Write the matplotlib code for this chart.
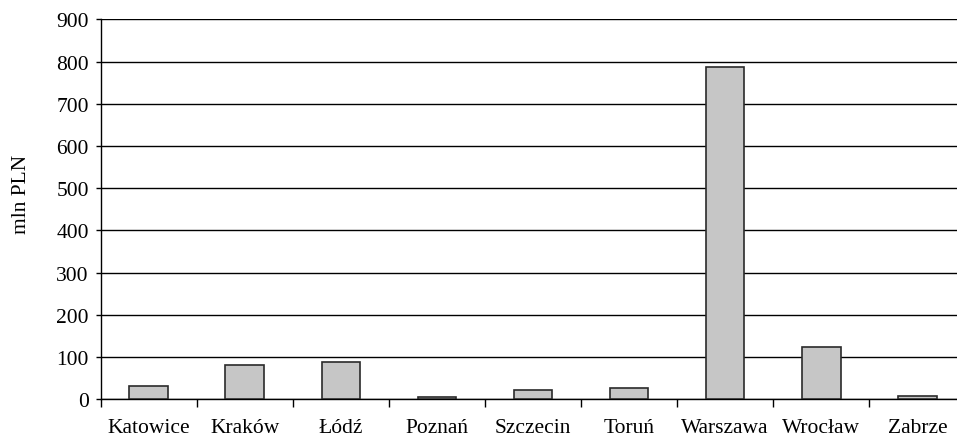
import matplotlib
matplotlib.use("Agg")
import matplotlib.pyplot as plt
import numpy as np

cities = ["Katowice", "Kraków", "Łódź", "Poznań", "Szczecin", "Toruń", "Warszawa", "Wrocław", "Zabrze"]
values = [31, 81, 88, 6, 23, 26, 787, 125, 9]
y_ticks = [0, 100, 200, 300, 400, 500, 600, 700, 800, 900]
y_label = "mln PLN"

plt.rcParams['font.family'] = ['Liberation Serif', 'DejaVu Serif']

W, H = 957, 439
fig = plt.figure(figsize=(W / 100, H / 100), dpi=100)
left, right, top, bottom = 100.5, 965.5, 20.3, 400.3
ax = fig.add_axes([left / W, (H - bottom) / H, (right - left) / W, (bottom - top) / H])

x = np.arange(len(cities))
ax.set_axisbelow(True)
ax.yaxis.grid(True, color="black", linewidth=1.0)
ax.bar(x, values, width=0.40, color="#c6c6c6", edgecolor="#2a2a2a", linewidth=1.2, zorder=3)

ax.set_xlim(-0.5, len(cities) - 0.5)
ax.set_ylim(0, 900)
ax.set_yticks(y_ticks)
ax.set_yticklabels([str(v) for v in y_ticks], fontsize=15.5)
ax.tick_params(axis="y", length=3.5, width=1, pad=5, direction="out")

ax.set_xticks(x)
ax.set_xticklabels(cities, fontsize=15.5)
ax.tick_params(axis="x", which="major", length=0, pad=13.5)
ax.set_xticks(np.arange(-0.5, len(cities), 1.0), minor=True)
ax.tick_params(axis="x", which="minor", length=6, width=1, direction="out")

for s in ["top", "right"]:
    ax.spines[s].set_visible(False)
for s in ["left", "bottom"]:
    ax.spines[s].set_color("black")
    ax.spines[s].set_linewidth(1.0)

fig.text(21 / W, 1 - 194 / H, y_label, fontsize=15.5, rotation=90, ha="center", va="center")

fig.savefig("out.png", dpi=100)
